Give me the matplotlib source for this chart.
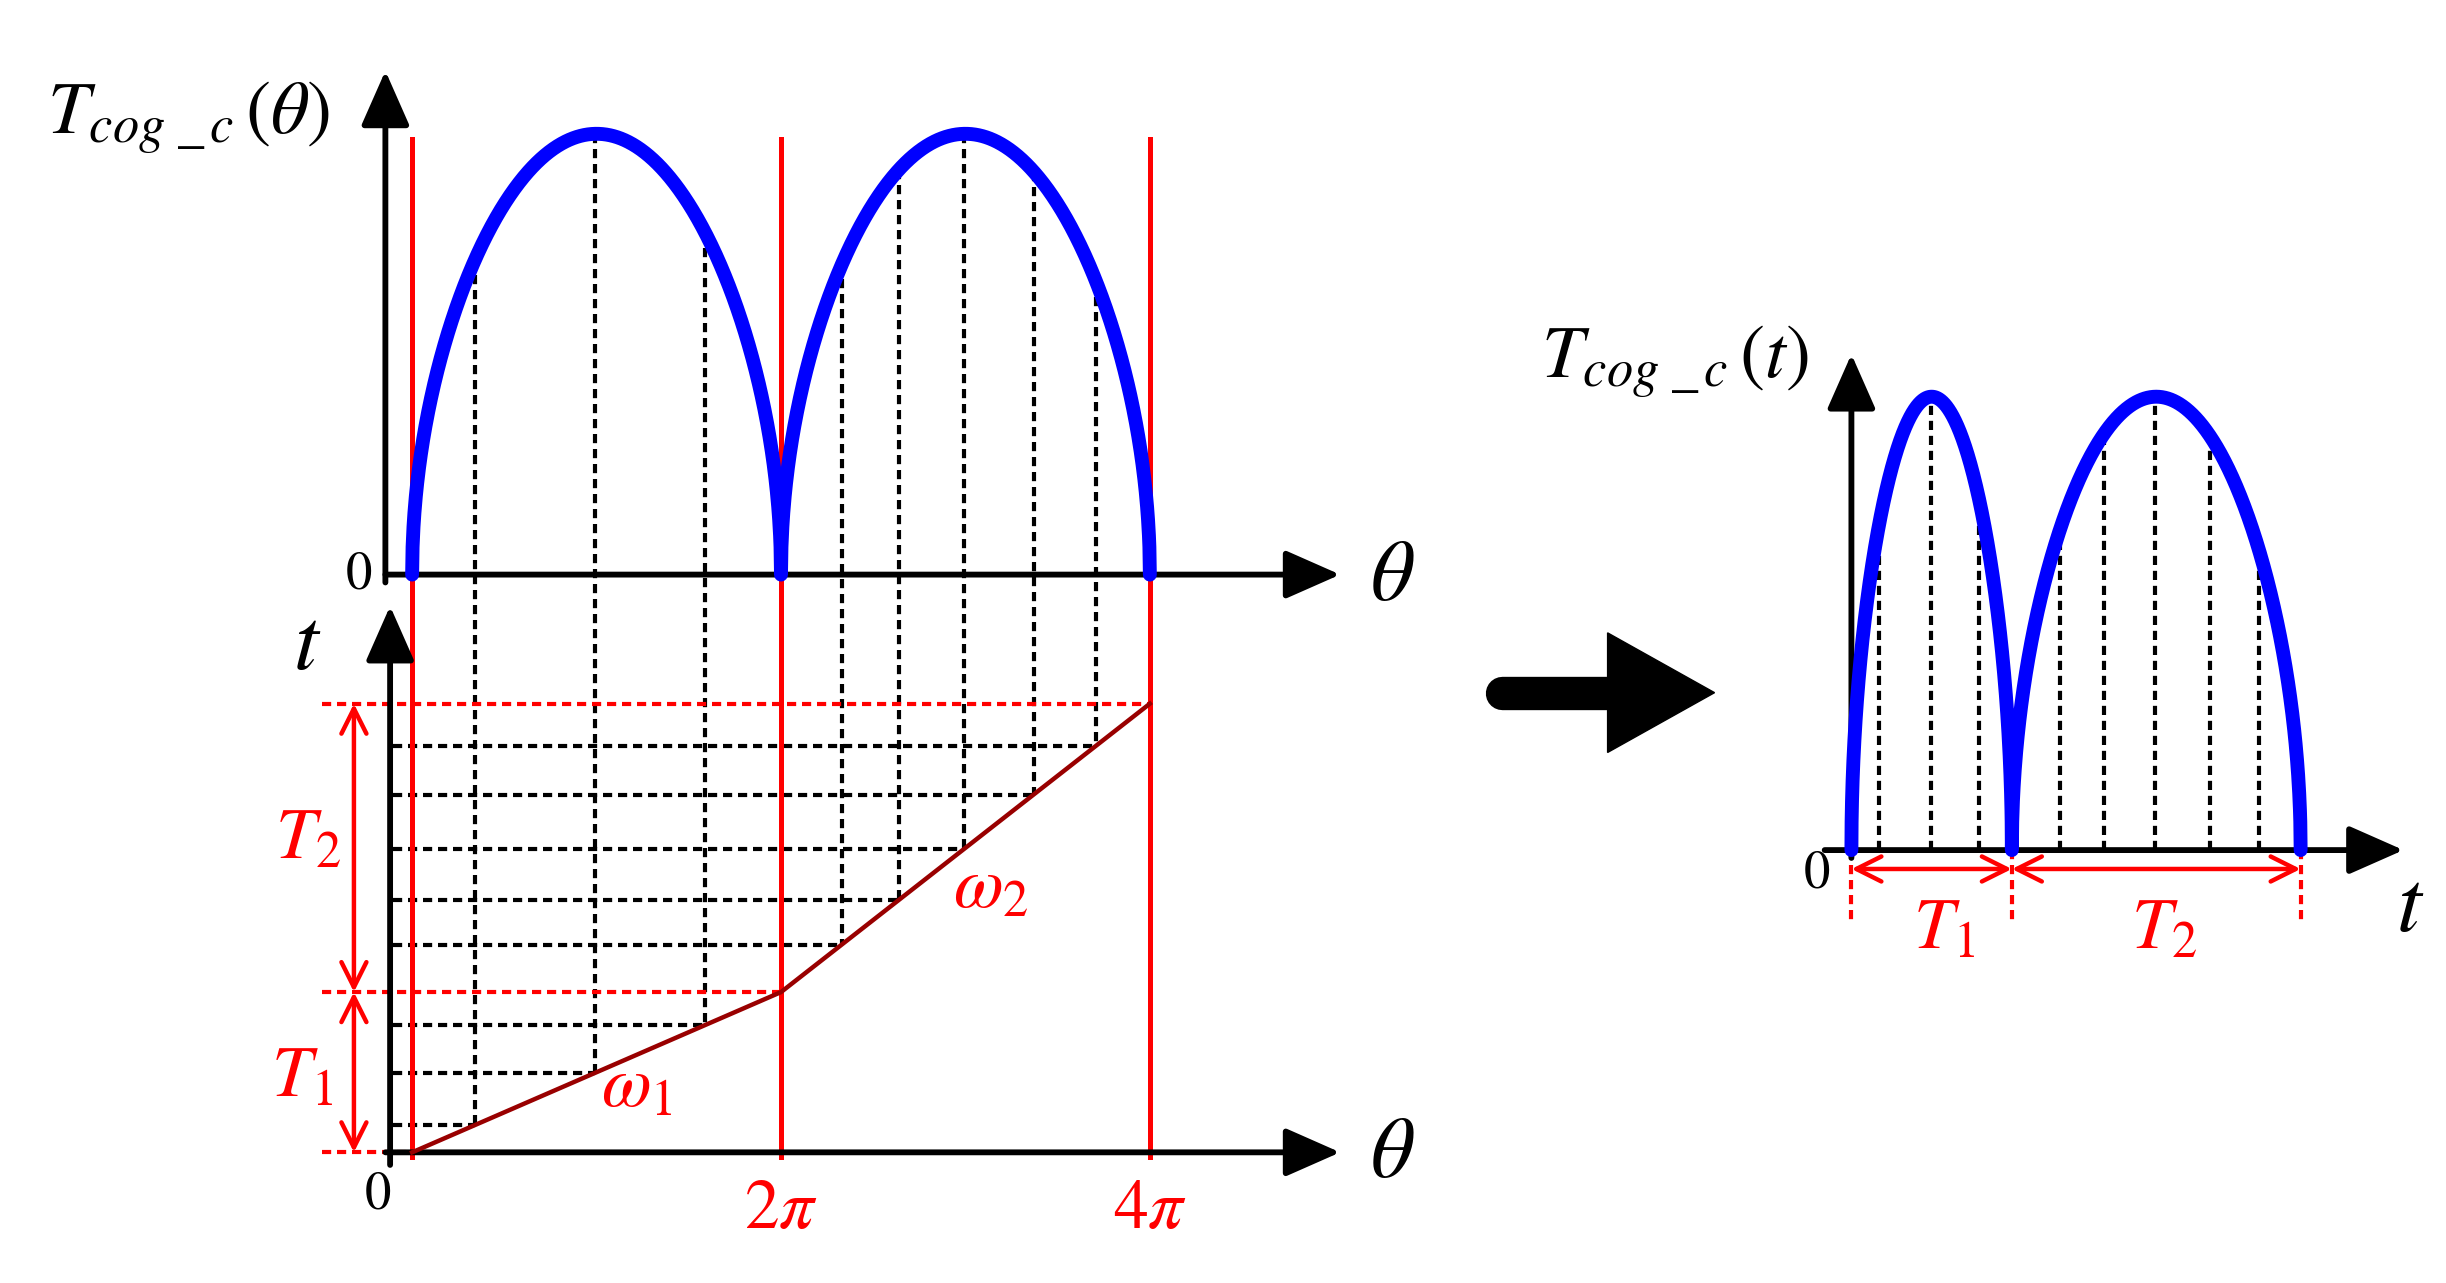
import numpy as np
import matplotlib
matplotlib.use("Agg")
import matplotlib.pyplot as plt

plt.rcParams['mathtext.fontset'] = 'stix'
plt.rcParams['font.family'] = ['STIXGeneral', 'Liberation Serif', 'DejaVu Serif']

# ---- data (theta in units of pi, time in units) ----
theta_marks = [0, 2, 4]
theta_samples = [0.34, 0.99, 1.59, 2.33, 2.64, 2.99, 3.37, 3.71]
T1 = 1.0
T2 = 1.8
arch_exponent = 0.5

# ---- layout in reference pixel coords (1555 x 815) ----
W, H = 1555, 815
fig = plt.figure(figsize=(24.46, 12.83), dpi=100)
ax = fig.add_axes([0, 0, 1, 1])
ax.set_xlim(0, W); ax.set_ylim(H, 0); ax.axis('off')

x0, pxpi = 262, 117.25
ytop0, amp_top = 365, 280
yb0, ptime = 732, (732 - 447) / (T1 + T2)
rx0, rpt = 1177, 102.0
ry0, amp_r = 540, 288

def tx(th): return x0 + th * pxpi
def arch(th):
    return np.abs(np.sin(np.pi * th / 2)) ** arch_exponent
def time_of(th):
    return np.where(th <= 2, th / 2 * T1, T1 + (th - 2) / 2 * T2)

blue, red, dk = '#0000ff', '#ff0000', '#990000'
alw = 4.2
dash = (0, (2.2, 1.4))
def arrow(x1, y1, x2, y2):
    ax.annotate('', xy=(x2, y2), xytext=(x1, y1),
                arrowprops=dict(arrowstyle='-|>,head_width=0.75,head_length=1.7', lw=alw,
                                color='k', shrinkA=0, shrinkB=0, mutation_scale=20))
def darrow(xy1, xy2):
    ax.annotate('', xy=xy2, xytext=xy1,
                arrowprops=dict(arrowstyle='<->,head_width=0.45,head_length=0.9',
                                lw=3.2, color=red, shrinkA=0, shrinkB=0, mutation_scale=20))

# ---- top panel ----
arrow(245, ytop0, 852, ytop0)
arrow(245, ytop0 + 5, 245, 45)
th = np.linspace(0, 4, 1601)
for th_m in theta_marks:
    ax.plot([tx(th_m)] * 2, [88, 735], color=red, lw=3.6, zorder=2)
for s in theta_samples:
    yc = ytop0 - amp_top * arch(s)
    yl = yb0 - ptime * time_of(s)
    ax.plot([tx(s)] * 2, [yc, yl], 'k', ls=dash, lw=3, zorder=1)
    ax.plot([250, tx(s)], [yl, yl], 'k', ls=dash, lw=3, zorder=1)
ax.plot(tx(th), ytop0 - amp_top * arch(th), color=blue, lw=10, solid_capstyle='round', zorder=3)

ax.text(120, 75, r'$T_{cog\ \_\,c}\,(\theta)$', fontsize=54, ha='center', va='center')
ax.text(228, 366, '0', fontsize=38, ha='center', va='center')
ax.text(885, 368, r'$\theta$', fontsize=62, ha='center', va='center')

# ---- bottom panel ----
arrow(245, yb0, 852, yb0)
arrow(248, yb0 + 8, 248, 385)
ax.plot(tx(th), yb0 - ptime * time_of(th), color=dk, lw=3.2, zorder=3)
for tt_, xe in [(0, tx(0)), (T1, tx(2)), (T1 + T2, tx(4))]:
    y = yb0 - ptime * tt_
    ax.plot([205, xe], [y, y], color=red, ls=dash, lw=3, zorder=2)
for a, b in [(0, T1), (T1, T1 + T2)]:
    darrow((225, yb0 - ptime * a), (225, yb0 - ptime * b))
ax.text(196, 535, r'$T_2$', fontsize=52, color=red, ha='center', va='center')
ax.text(192, 686, r'$T_1$', fontsize=52, color=red, ha='center', va='center')
ax.text(405, 692, r'$\omega_1$', fontsize=52, color=red, ha='center', va='center')
ax.text(630, 566, r'$\omega_2$', fontsize=52, color=red, ha='center', va='center')
ax.text(195, 412, r'$t$', fontsize=64, ha='center', va='center')
ax.text(885, 735, r'$\theta$', fontsize=62, ha='center', va='center')
ax.text(240, 760, '0', fontsize=38, ha='center', va='center')
ax.text(tx(2), 770, r'$2\pi$', fontsize=50, color=red, ha='center', va='center')
ax.text(tx(4), 770, r'$4\pi$', fontsize=50, color=red, ha='center', va='center')

# ---- big arrow ----
ax.plot([955, 1030], [440, 440], 'k', lw=24, solid_capstyle='round')
ax.add_patch(plt.Polygon([[1022, 402], [1090, 440], [1022, 478]], color='k'))

# ---- right panel ----
def rx(t): return rx0 + t * rpt
arrow(1160, ry0, 1528, ry0)
arrow(1177, ry0 + 5, 1177, 225)
tt = time_of(th)
for s in theta_samples:
    ax.plot([rx(time_of(s))] * 2, [ry0, ry0 - amp_r * arch(s)], 'k', ls=dash, lw=3, zorder=1)
ax.plot(rx(tt), ry0 - amp_r * arch(th), color=blue, lw=10, solid_capstyle='round', zorder=3)
for t_ in [0, T1, T1 + T2]:
    ax.plot([rx(t_)] * 2, [ry0, 585], color=red, ls=dash, lw=3)
for a, b in [(0, T1), (T1, T1 + T2)]:
    darrow((rx(a), 552), (rx(b), 552))
ax.text(1236, 592, r'$T_1$', fontsize=52, color=red, ha='center', va='center')
ax.text(1376, 592, r'$T_2$', fontsize=52, color=red, ha='center', va='center')
ax.text(1155, 556, '0', fontsize=38, ha='center', va='center')
ax.text(1532, 578, r'$t$', fontsize=64, ha='center', va='center')
ax.text(1065, 230, r'$T_{cog\ \_\,c}\,(t)$', fontsize=54, ha='center', va='center')

fig.savefig('out.png', dpi=100, facecolor='white')
